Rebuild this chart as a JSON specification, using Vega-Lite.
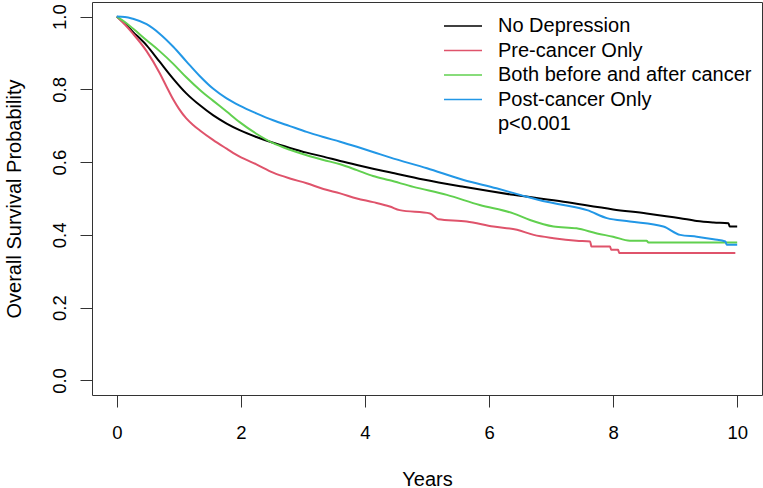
{
  "$schema": "https://vega.github.io/schema/vega-lite/v6.json",
  "width": 670,
  "height": 393,
  "autosize": {"type": "none"},
  "padding": {"left": 92, "top": 2, "right": 1, "bottom": 93},
  "background": "white",
  "config": {
    "font": "Liberation Sans",
    "view": {"stroke": "#333333", "strokeWidth": 1}
  },
  "data": {
    "values": [
      {"g": "No Depression", "t": 0, "s": 1},
      {"g": "No Depression", "t": 0.13, "s": 0.98},
      {"g": "No Depression", "t": 0.26, "s": 0.958},
      {"g": "No Depression", "t": 0.48, "s": 0.921},
      {"g": "No Depression", "t": 0.69, "s": 0.876},
      {"g": "No Depression", "t": 0.91, "s": 0.829},
      {"g": "No Depression", "t": 1.12, "s": 0.789},
      {"g": "No Depression", "t": 1.34, "s": 0.756},
      {"g": "No Depression", "t": 1.55, "s": 0.729},
      {"g": "No Depression", "t": 1.77, "s": 0.706},
      {"g": "No Depression", "t": 1.98, "s": 0.688},
      {"g": "No Depression", "t": 2.25, "s": 0.669},
      {"g": "No Depression", "t": 2.52, "s": 0.653},
      {"g": "No Depression", "t": 2.79, "s": 0.639},
      {"g": "No Depression", "t": 3.06, "s": 0.626},
      {"g": "No Depression", "t": 3.33, "s": 0.615},
      {"g": "No Depression", "t": 3.6, "s": 0.603},
      {"g": "No Depression", "t": 3.87, "s": 0.592},
      {"g": "No Depression", "t": 4.13, "s": 0.582},
      {"g": "No Depression", "t": 4.4, "s": 0.572},
      {"g": "No Depression", "t": 4.94, "s": 0.552},
      {"g": "No Depression", "t": 5.59, "s": 0.532},
      {"g": "No Depression", "t": 6.39, "s": 0.51},
      {"g": "No Depression", "t": 7.2, "s": 0.491},
      {"g": "No Depression", "t": 8.0, "s": 0.47},
      {"g": "No Depression", "t": 8.54, "s": 0.459},
      {"g": "No Depression", "t": 9.08, "s": 0.446},
      {"g": "No Depression", "t": 9.35, "s": 0.438},
      {"g": "No Depression", "t": 9.62, "s": 0.434},
      {"g": "No Depression", "t": 9.86, "s": 0.432},
      {"g": "No Depression", "t": 9.88, "s": 0.423},
      {"g": "No Depression", "t": 10.0, "s": 0.423},

      {"g": "Pre-cancer Only", "t": 0, "s": 1},
      {"g": "Pre-cancer Only", "t": 0.13, "s": 0.978},
      {"g": "Pre-cancer Only", "t": 0.26, "s": 0.953},
      {"g": "Pre-cancer Only", "t": 0.48, "s": 0.905},
      {"g": "Pre-cancer Only", "t": 0.69, "s": 0.845},
      {"g": "Pre-cancer Only", "t": 0.8, "s": 0.808},
      {"g": "Pre-cancer Only", "t": 0.91, "s": 0.772},
      {"g": "Pre-cancer Only", "t": 1.0, "s": 0.747},
      {"g": "Pre-cancer Only", "t": 1.12, "s": 0.72},
      {"g": "Pre-cancer Only", "t": 1.23, "s": 0.702},
      {"g": "Pre-cancer Only", "t": 1.34, "s": 0.687},
      {"g": "Pre-cancer Only", "t": 1.55, "s": 0.661},
      {"g": "Pre-cancer Only", "t": 1.77, "s": 0.637},
      {"g": "Pre-cancer Only", "t": 1.98, "s": 0.615},
      {"g": "Pre-cancer Only", "t": 2.25, "s": 0.594},
      {"g": "Pre-cancer Only", "t": 2.52, "s": 0.571},
      {"g": "Pre-cancer Only", "t": 2.79, "s": 0.555},
      {"g": "Pre-cancer Only", "t": 3.06, "s": 0.542},
      {"g": "Pre-cancer Only", "t": 3.33, "s": 0.526},
      {"g": "Pre-cancer Only", "t": 3.6, "s": 0.514},
      {"g": "Pre-cancer Only", "t": 3.87, "s": 0.5},
      {"g": "Pre-cancer Only", "t": 4.13, "s": 0.49},
      {"g": "Pre-cancer Only", "t": 4.4, "s": 0.478},
      {"g": "Pre-cancer Only", "t": 4.56, "s": 0.468},
      {"g": "Pre-cancer Only", "t": 5.05, "s": 0.459},
      {"g": "Pre-cancer Only", "t": 5.18, "s": 0.443},
      {"g": "Pre-cancer Only", "t": 5.64, "s": 0.437},
      {"g": "Pre-cancer Only", "t": 6.07, "s": 0.423},
      {"g": "Pre-cancer Only", "t": 6.45, "s": 0.414},
      {"g": "Pre-cancer Only", "t": 6.72, "s": 0.4},
      {"g": "Pre-cancer Only", "t": 7.04, "s": 0.391},
      {"g": "Pre-cancer Only", "t": 7.41, "s": 0.384},
      {"g": "Pre-cancer Only", "t": 7.63, "s": 0.382},
      {"g": "Pre-cancer Only", "t": 7.65, "s": 0.368},
      {"g": "Pre-cancer Only", "t": 7.95, "s": 0.368},
      {"g": "Pre-cancer Only", "t": 7.97, "s": 0.359},
      {"g": "Pre-cancer Only", "t": 8.08, "s": 0.359},
      {"g": "Pre-cancer Only", "t": 8.1, "s": 0.35},
      {"g": "Pre-cancer Only", "t": 9.97, "s": 0.35},

      {"g": "Both before and after cancer", "t": 0, "s": 1},
      {"g": "Both before and after cancer", "t": 0.13, "s": 0.985},
      {"g": "Both before and after cancer", "t": 0.26, "s": 0.967},
      {"g": "Both before and after cancer", "t": 0.48, "s": 0.935},
      {"g": "Both before and after cancer", "t": 0.69, "s": 0.905},
      {"g": "Both before and after cancer", "t": 0.91, "s": 0.87},
      {"g": "Both before and after cancer", "t": 1.12, "s": 0.833},
      {"g": "Both before and after cancer", "t": 1.34, "s": 0.798},
      {"g": "Both before and after cancer", "t": 1.55, "s": 0.769},
      {"g": "Both before and after cancer", "t": 1.77, "s": 0.739},
      {"g": "Both before and after cancer", "t": 1.98, "s": 0.71},
      {"g": "Both before and after cancer", "t": 2.25, "s": 0.678},
      {"g": "Both before and after cancer", "t": 2.52, "s": 0.652},
      {"g": "Both before and after cancer", "t": 2.79, "s": 0.634},
      {"g": "Both before and after cancer", "t": 3.06, "s": 0.619},
      {"g": "Both before and after cancer", "t": 3.33, "s": 0.606},
      {"g": "Both before and after cancer", "t": 3.6, "s": 0.594},
      {"g": "Both before and after cancer", "t": 3.87, "s": 0.578},
      {"g": "Both before and after cancer", "t": 4.13, "s": 0.562},
      {"g": "Both before and after cancer", "t": 4.4, "s": 0.55},
      {"g": "Both before and after cancer", "t": 4.78, "s": 0.532},
      {"g": "Both before and after cancer", "t": 5.32, "s": 0.51},
      {"g": "Both before and after cancer", "t": 5.85, "s": 0.482},
      {"g": "Both before and after cancer", "t": 6.39, "s": 0.459},
      {"g": "Both before and after cancer", "t": 6.66, "s": 0.441},
      {"g": "Both before and after cancer", "t": 7.04, "s": 0.423},
      {"g": "Both before and after cancer", "t": 7.41, "s": 0.418},
      {"g": "Both before and after cancer", "t": 7.74, "s": 0.404},
      {"g": "Both before and after cancer", "t": 8.0, "s": 0.395},
      {"g": "Both before and after cancer", "t": 8.27, "s": 0.384},
      {"g": "Both before and after cancer", "t": 8.54, "s": 0.384},
      {"g": "Both before and after cancer", "t": 8.57, "s": 0.379},
      {"g": "Both before and after cancer", "t": 10.0, "s": 0.379},

      {"g": "Post-cancer Only", "t": 0, "s": 1},
      {"g": "Post-cancer Only", "t": 0.13, "s": 0.999},
      {"g": "Post-cancer Only", "t": 0.26, "s": 0.994},
      {"g": "Post-cancer Only", "t": 0.48, "s": 0.979},
      {"g": "Post-cancer Only", "t": 0.69, "s": 0.953},
      {"g": "Post-cancer Only", "t": 0.91, "s": 0.917},
      {"g": "Post-cancer Only", "t": 1.12, "s": 0.877},
      {"g": "Post-cancer Only", "t": 1.34, "s": 0.836},
      {"g": "Post-cancer Only", "t": 1.55, "s": 0.802},
      {"g": "Post-cancer Only", "t": 1.77, "s": 0.775},
      {"g": "Post-cancer Only", "t": 1.98, "s": 0.755},
      {"g": "Post-cancer Only", "t": 2.25, "s": 0.734},
      {"g": "Post-cancer Only", "t": 2.52, "s": 0.715},
      {"g": "Post-cancer Only", "t": 2.79, "s": 0.699},
      {"g": "Post-cancer Only", "t": 3.06, "s": 0.683},
      {"g": "Post-cancer Only", "t": 3.33, "s": 0.669},
      {"g": "Post-cancer Only", "t": 3.6, "s": 0.656},
      {"g": "Post-cancer Only", "t": 3.87, "s": 0.642},
      {"g": "Post-cancer Only", "t": 4.13, "s": 0.628},
      {"g": "Post-cancer Only", "t": 4.4, "s": 0.613},
      {"g": "Post-cancer Only", "t": 5.0, "s": 0.583},
      {"g": "Post-cancer Only", "t": 5.59, "s": 0.551},
      {"g": "Post-cancer Only", "t": 6.12, "s": 0.528},
      {"g": "Post-cancer Only", "t": 6.5, "s": 0.51},
      {"g": "Post-cancer Only", "t": 6.93, "s": 0.491},
      {"g": "Post-cancer Only", "t": 7.2, "s": 0.482},
      {"g": "Post-cancer Only", "t": 7.58, "s": 0.468},
      {"g": "Post-cancer Only", "t": 7.9, "s": 0.446},
      {"g": "Post-cancer Only", "t": 8.27, "s": 0.437},
      {"g": "Post-cancer Only", "t": 8.81, "s": 0.423},
      {"g": "Post-cancer Only", "t": 9.08, "s": 0.4},
      {"g": "Post-cancer Only", "t": 9.35, "s": 0.395},
      {"g": "Post-cancer Only", "t": 9.62, "s": 0.388},
      {"g": "Post-cancer Only", "t": 9.81, "s": 0.382},
      {"g": "Post-cancer Only", "t": 9.83, "s": 0.373},
      {"g": "Post-cancer Only", "t": 10.0, "s": 0.373}
    ]
  },
  "mark": {"type": "line", "strokeWidth": 2, "interpolate": "monotone"},
  "encoding": {
    "x": {
      "field": "t",
      "type": "quantitative",
      "scale": {"domain": [-0.4, 10.4], "nice": false, "zero": false},
      "axis": {
        "values": [0, 2, 4, 6, 8, 10],
        "title": "Years",
        "grid": false,
        "domain": false,
        "tickSize": 12,
        "tickColor": "#333333",
        "labelFontSize": 18.5,
        "labelPadding": 16,
        "labelColor": "#000000",
        "labelFlush": false,
        "labelOverlap": false,
        "titleFontSize": 20,
        "titleFontWeight": "normal",
        "titleColor": "#000000",
        "titleBaseline": "alphabetic",
        "titleY": 90
      }
    },
    "y": {
      "field": "s",
      "type": "quantitative",
      "scale": {"domain": [-0.04, 1.04], "nice": false, "zero": false},
      "axis": {
        "values": [0, 0.2, 0.4, 0.6, 0.8, 1],
        "format": ".1f",
        "title": "Overall Survival Probability",
        "grid": false,
        "domain": false,
        "tickSize": 12,
        "tickColor": "#333333",
        "labelFontSize": 18.5,
        "labelAngle": 270,
        "labelAlign": "center",
        "labelBaseline": "alphabetic",
        "labelPadding": 15,
        "labelColor": "#000000",
        "labelFlush": false,
        "labelOverlap": false,
        "titleFontSize": 20,
        "titleFontWeight": "normal",
        "titleColor": "#000000",
        "titleAngle": 270,
        "titleAlign": "center",
        "titleBaseline": "alphabetic",
        "titleX": -72,
        "titleY": 196.5
      }
    },
    "color": {
      "field": "g",
      "type": "nominal",
      "sort": null,
      "scale": {
        "domain": ["No Depression", "Pre-cancer Only", "Both before and after cancer", "Post-cancer Only", "p<0.001"],
        "range": ["#000000", "#DF536B", "#61D04F", "#2297E6", "rgba(255,255,255,0)"]
      },
      "legend": {
        "orient": "none",
        "legendX": 360.5,
        "legendY": 13.5,
        "title": null,
        "padding": 0,
        "symbolType": "M-2,0H2",
        "symbolSize": 361,
        "symbolStrokeWidth": 1.5,
        "labelFontSize": 20,
        "labelColor": "#000000",
        "labelLimit": 400,
        "labelOffset": 24.5,
        "rowPadding": 3.5
      }
    }
  }
}
